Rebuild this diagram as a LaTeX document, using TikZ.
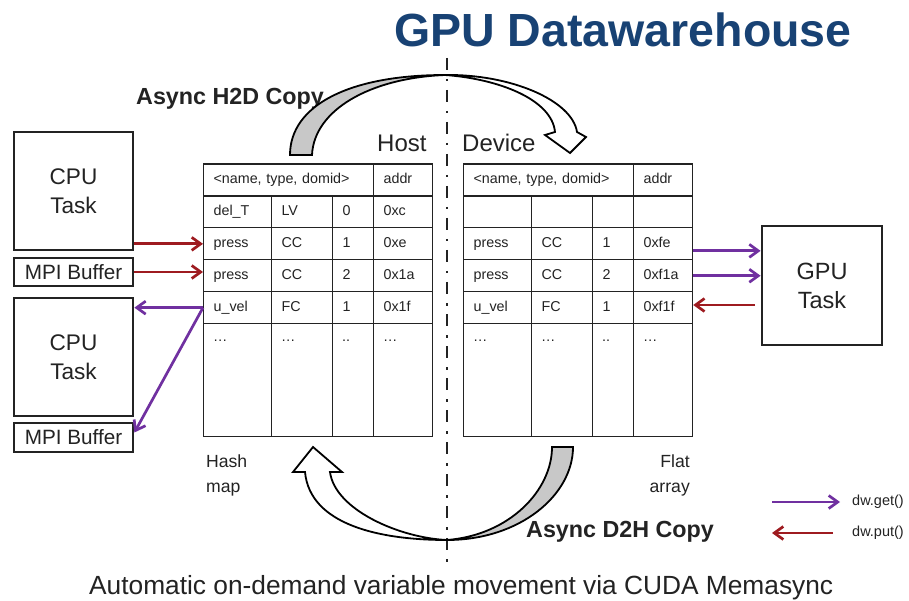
\documentclass[tikz,border=0pt]{standalone}
\usepackage{fontspec}
\setmainfont{Liberation Sans}
\usetikzlibrary{arrows.meta}

\definecolor{titleblue}{RGB}{24,66,116}
\definecolor{putred}{RGB}{158,27,32}
\definecolor{getpurple}{RGB}{112,48,160}
\definecolor{ink}{RGB}{35,35,35}
\definecolor{curlgray}{RGB}{200,200,200}

\newcommand\fsz[1]{\fontsize{#1}{#1}\selectfont}

% one table row of four cells: name prefix, left x, top y, four entries
\newcommand\tabrow[7]{%
  \node[cell=48pt] (#1a) at (#2,#3) {#4};
  \node[cell=41pt] (#1b) at ({#2+68},#3) {#5};
  \node[cell=21pt] (#1c) at ({#2+129},#3) {#6};
  \node[cell=39pt] (#1d) at ({#2+170},#3) {#7};}

% the open last row with ellipsis marks near its top
\newcommand\dotrow[3]{%
  \node[cell=48pt, minimum height=113pt] (#1a) at (#2,#3) {};
  \node[cell=41pt, minimum height=113pt] (#1b) at ({#2+68},#3) {};
  \node[cell=21pt, minimum height=113pt] (#1c) at ({#2+129},#3) {};
  \node[cell=39pt, minimum height=113pt] (#1d) at ({#2+170},#3) {};
  \node[dots] (#1at) at ([xshift=10pt,yshift=-18pt]#1a.north west) {…};
  \node[dots] (#1bt) at ([xshift=10pt,yshift=-18pt]#1b.north west) {…};
  \node[dots] (#1ct) at ([xshift=10pt,yshift=-18pt]#1c.north west) {..};
  \node[dots] (#1dt) at ([xshift=10pt,yshift=-18pt]#1d.north west) {…};}

\begin{document}
\begin{tikzpicture}[x=1pt,y=-1pt,
  every node/.style={text=ink, inner sep=0pt},
  cell/.style={draw=ink, line width=1.2pt, anchor=north west,
    minimum height=31.9pt, text width=#1, text height=10.5pt, text depth=3.5pt,
    inner xsep=10pt, inner ysep=0pt, align=left, font=\fsz{14.3}},
  dots/.style={anchor=base west, font=\fsz{14.3}},
  box/.style={draw=ink, line width=2.8pt, align=center},
  getarrow/.style={getpurple, line width=2.7pt, -{Straight Barb[length=9pt,width=13pt]}},
  putarrow/.style={putred, line width=2.7pt, -{Straight Barb[length=9pt,width=13pt]}},
  curl/.style={draw=black, line width=1.8pt, line join=miter},
  divider/.style={draw=ink, line width=2.9pt, dash pattern=on 12pt off 9pt on 2.5pt off 8.5pt},
  lbl/.style={anchor=base west},
]
\fill[white] (0,0) rectangle (909,601);
\useasboundingbox (0,0) rectangle (909,601);

% title
\node[anchor=base, text=titleblue, font=\bfseries\fsz{46.5}] (title) at (623,47) {GPU Datawarehouse};

% host / device divider
\coordinate (divtop) at (447,58);
\coordinate (divbot) at (447,568);
\draw[divider] (divtop) -- (divbot);

% copy labels (H2D sits under its arrow)
\node[lbl, font=\bfseries\fsz{23.3}] (h2d) at (136,105) {Async H2D Copy};

% host -> device curved arrow
\fill[curlgray] (290,155) .. controls (290,105) and (350,75) .. (445,75)
  .. controls (370,78) and (314,110) .. (312,155) -- cycle;
\fill[white] (445,75) .. controls (510,74) and (572,100) .. (577,132)
  -- (586,137) -- (570,153) -- (545,135) -- (555,132)
  .. controls (552,100) and (500,79) .. (445,75) -- cycle;
\draw[curl] (290,155) .. controls (290,105) and (350,75) .. (445,75)
  .. controls (510,74) and (572,100) .. (577,132)
  -- (586,137) -- (570,153) -- (545,135) -- (555,132)
  .. controls (552,100) and (500,79) .. (445,75)
  .. controls (370,78) and (314,110) .. (312,155) -- cycle;

% device -> host curved arrow
\fill[curlgray] (573,447) .. controls (573,495) and (520,540) .. (447,540)
  .. controls (510,535) and (552,490) .. (552,447) -- cycle;
\fill[white] (447,540) .. controls (380,540) and (310,525) .. (305,472)
  -- (293,472) -- (313,447) -- (342,472) -- (330,472)
  .. controls (335,510) and (400,538) .. (447,540) -- cycle;
\draw[curl] (573,447) .. controls (573,495) and (520,540) .. (447,540)
  .. controls (380,540) and (310,525) .. (305,472)
  -- (293,472) -- (313,447) -- (342,472) -- (330,472)
  .. controls (335,510) and (400,538) .. (447,540)
  .. controls (510,535) and (552,490) .. (552,447) -- cycle;

\node[lbl, font=\bfseries\fsz{23.3}] (d2h) at (526,537) {Async D2H Copy};

% side labels
\node[lbl, font=\fsz{24}] (hostlbl) at (377,152) {Host};
\node[lbl, font=\fsz{24}] (devlbl) at (462,152) {Device};

% host hash map
\node[cell=150pt] (hH) at (203,163.5) {<name, type, domid>};
\node[cell=39pt] (hHd) at (373,163.5) {addr};
\tabrow{h1}{203}{195.4}{del\_T}{LV}{0}{0xc}
\tabrow{h2}{203}{227.3}{press}{CC}{1}{0xe}
\tabrow{h3}{203}{259.2}{press}{CC}{2}{0x1a}
\tabrow{h4}{203}{291.1}{u\_vel}{FC}{1}{0x1f}
\dotrow{h5}{203}{323}

% device flat array
\node[cell=150pt] (dH) at (463,163.5) {<name, type, domid>};
\node[cell=39pt] (dHd) at (633,163.5) {addr};
\tabrow{d1}{463}{195.4}{}{}{}{}
\tabrow{d2}{463}{227.3}{press}{CC}{1}{0xfe}
\tabrow{d3}{463}{259.2}{press}{CC}{2}{0xf1a}
\tabrow{d4}{463}{291.1}{u\_vel}{FC}{1}{0xf1f}
\dotrow{d5}{463}{323}

\node[lbl, font=\fsz{17.6}] (hash1) at (206,467) {Hash};
\node[lbl, font=\fsz{17.6}] (hash2) at (206,492) {map};
\node[anchor=base east, font=\fsz{17.6}] (flat1) at (690,467) {Flat};
\node[anchor=base east, font=\fsz{17.6}] (flat2) at (690,492) {array};

% tasks and buffers
\node[box, minimum width=119pt, minimum height=118pt, font=\fontsize{22.6}{29}\selectfont] (cpu1) at (73.5,191) {CPU\\Task};
\node[box, minimum width=119pt, minimum height=28pt, font=\fsz{20.7}] (mpi1) at (73.5,272) {MPI Buffer};
\node[box, minimum width=119pt, minimum height=118pt, font=\fontsize{22.6}{29}\selectfont] (cpu2) at (73.5,357) {CPU\\Task};
\node[box, minimum width=119pt, minimum height=29pt, font=\fsz{20.7}] (mpi2) at (73.5,437.5) {MPI Buffer};
\node[box, minimum width=120pt, minimum height=119pt, font=\fontsize{23.5}{29}\selectfont] (gpu) at (822,285.5) {GPU\\Task};

% host side puts and gets
\draw[putarrow] (h2a.west -| cpu1.east) -- (h2a.west);
\draw[putarrow] (mpi1.east) -- (mpi1.east -| h3a.west);
\draw[getarrow] (h4a.west) -- (h4a.west -| cpu2.east);
\draw[getarrow] (h4a.west) -- ([yshift=5pt]mpi2.east);

% device side puts and gets
\draw[getarrow] ([yshift=-7pt]d2d.east) -- ([yshift=-7pt]d2d.east -| gpu.west);
\draw[getarrow] (d3d.east) -- (d3d.east -| gpu.west);
\coordinate (gpuput) at (755,305);
\draw[putarrow] (gpuput) -- (gpuput -| d4d.east);

% legend
\node[anchor=west, font=\fsz{14.5}] (getlbl) at (852,502) {dw.get()};
\node[anchor=west, font=\fsz{14.5}] (putlbl) at (852,533) {dw.put()};
\coordinate (getstart) at (772,502);
\coordinate (putend) at (772,533);
\draw[getarrow] (getstart) -- ([xshift=-12pt]getlbl.west);
\draw[putarrow] ([xshift=-19pt]putlbl.west) -- (putend);

% caption
\node[lbl, font=\fsz{26.3}] (caption) at (89,594) {Automatic on-demand variable movement via CUDA Memasync};
\end{tikzpicture}
\end{document}
